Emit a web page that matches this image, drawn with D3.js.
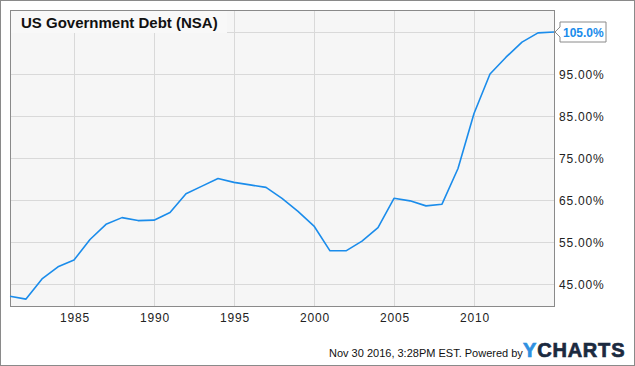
<!DOCTYPE html>
<html>
<head>
<meta charset="utf-8">
<script src="https://cdn.jsdelivr.net/npm/d3@7"></script>
<style>
  body { margin: 0; background: #fff; }
  text { font-family: Arial, "Liberation Sans", sans-serif; }
</style>
</head>
<body>
<script>
// debt as % of GDP, yearly
var years = [1981, 1982, 1983, 1984, 1985, 1986, 1987, 1988, 1989, 1990,
             1991, 1992, 1993, 1994, 1995, 1996, 1997, 1998, 1999, 2000,
             2001, 2002, 2003, 2004, 2005, 2006, 2007, 2008, 2009, 2010,
             2011, 2012, 2013, 2014, 2015];
var debt = [42.1, 41.4, 46.2, 49.1, 50.7, 55.6, 59.2, 60.8, 60.1, 60.2,
            62.0, 66.5, 68.3, 70.1, 69.2, 68.6, 68.0, 65.4, 62.3, 58.8,
            52.9, 52.9, 55.2, 58.4, 65.4, 64.8, 63.6, 64.0, 72.5, 85.6,
            95.0, 99.0, 102.6, 104.8, 105.0];
var xTicks = [1985, 1990, 1995, 2000, 2005, 2010];
var yTicks = [45, 55, 65, 75, 85, 95, 105];

var W = 635, H = 366;
// plot area (note: "top" is a reserved window global, so use pTop etc.)
var pLeft = 10, pRight = 554, pTop = 10, pBottom = 306;

var svg = d3.select("body").append("svg")
    .attr("width", W)
    .attr("height", H);

// gradient for the Y of the logo
var grad = svg.append("defs").append("linearGradient")
    .attr("id", "ygrad")
    .attr("x1", "0").attr("x2", "1").attr("y1", "0").attr("y2", "0");
grad.append("stop").attr("offset", "0.5").attr("stop-color", "#2f8fe0");
grad.append("stop").attr("offset", "0.5").attr("stop-color", "#d0459a");

// outer frame
svg.append("rect")
    .attr("x", 0.5).attr("y", 0.5)
    .attr("width", W - 1).attr("height", H - 1)
    .attr("fill", "#fff")
    .attr("stroke", "#8a8a8a");

var x = d3.scaleLinear().domain([1981, 2015]).range([pLeft, pRight]);
var y = d3.scaleLinear().domain([39.76, 110.24]).range([pBottom, pTop]);

// plot background
svg.append("rect")
    .attr("x", pLeft).attr("y", pTop)
    .attr("width", pRight - pLeft).attr("height", pBottom - pTop)
    .attr("fill", "#f6f6f6");

// grid
svg.selectAll(".vg").data(xTicks).enter().append("line")
    .attr("x1", d => Math.round(x(d)) + 0.5).attr("x2", d => Math.round(x(d)) + 0.5)
    .attr("y1", pTop).attr("y2", pBottom)
    .attr("stroke", "#d9d9d9");
svg.selectAll(".hg").data(yTicks).enter().append("line")
    .attr("x1", pLeft).attr("x2", pRight)
    .attr("y1", d => Math.round(y(d)) + 0.5).attr("y2", d => Math.round(y(d)) + 0.5)
    .attr("stroke", "#d9d9d9");

// title box
svg.append("rect")
    .attr("x", pLeft + 1).attr("y", pTop + 1)
    .attr("width", 216).attr("height", 22)
    .attr("fill", "#f8f8f8");
svg.append("text")
    .attr("x", 21).attr("y", 28)
    .attr("font-size", "15px")
    .attr("font-weight", "bold")
    .attr("fill", "#111")
    .text("US Government Debt (NSA)");

// plot frame
svg.append("rect")
    .attr("x", pLeft + 0.5).attr("y", pTop + 0.5)
    .attr("width", pRight - pLeft).attr("height", pBottom - pTop)
    .attr("fill", "none")
    .attr("stroke", "#8a8a8a");

// line
var line = d3.line()
    .x((d, i) => x(years[i]))
    .y(d => y(d));
svg.append("path")
    .datum(debt)
    .attr("d", line)
    .attr("fill", "none")
    .attr("stroke", "#1a8ceb")
    .attr("stroke-width", 1.6)
    .attr("stroke-linejoin", "round");

// axis labels
svg.selectAll(".xl").data(xTicks).enter().append("text")
    .attr("x", d => x(d) + 1)
    .attr("y", 322)
    .attr("text-anchor", "middle")
    .attr("font-size", "12px")
    .attr("letter-spacing", "0.8px")
    .attr("fill", "#222")
    .text(d => d);
svg.selectAll(".yl").data(yTicks.slice(0, -1)).enter().append("text")
    .attr("x", 559)
    .attr("y", d => y(d) + 5)
    .attr("font-size", "12px")
    .attr("letter-spacing", "0.8px")
    .attr("fill", "#222")
    .text(d => d.toFixed(2) + "%");

// last value flag
var last = debt[debt.length - 1];
var ly = y(last);
svg.append("path")
    .attr("d", "M" + (pRight + 1) + "," + ly +
               " L" + (pRight + 6) + "," + (ly - 5) +
               " L" + (pRight + 6) + "," + (ly - 10) +
               " L" + 606 + "," + (ly - 10) +
               " L" + 606 + "," + (ly + 10) +
               " L" + (pRight + 6) + "," + (ly + 10) +
               " L" + (pRight + 6) + "," + (ly + 5) + " Z")
    .attr("fill", "#fff")
    .attr("stroke", "#8a8a8a");
svg.append("text")
    .attr("x", 563).attr("y", ly + 5)
    .attr("font-size", "12px")
    .attr("font-weight", "bold")
    .attr("fill", "#1a8ceb")
    .text(last.toFixed(1) + "%");

// footer
svg.append("text")
    .attr("x", 329).attr("y", 357)
    .attr("font-size", "11px")
    .attr("fill", "#111")
    .text("Nov 30 2016, 3:28PM EST.  Powered by");
var logo = svg.append("text")
    .attr("x", 523).attr("y", 357)
    .attr("font-size", "20px")
    .attr("font-weight", "900")
    .attr("letter-spacing", "0.8px")
    .attr("stroke-width", 0.7);
logo.append("tspan").attr("fill", "url(#ygrad)").attr("stroke", "url(#ygrad)").text("Y");
logo.append("tspan").attr("fill", "#1b2a3f").attr("stroke", "#1b2a3f").text("CHARTS");
</script>
</body>
</html>
